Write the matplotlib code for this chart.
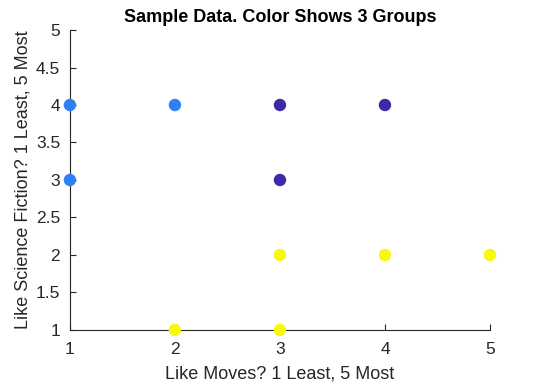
import matplotlib
matplotlib.use("Agg")
import matplotlib.pyplot as plt

plt.rcParams['font.family'] = ['Liberation Sans', 'DejaVu Sans']

x_vals = [1, 1, 2, 3, 4, 3, 2, 3, 3, 4, 5]
y_vals = [4, 3, 4, 4, 4, 3, 1, 1, 2, 2, 2]
groups = [1, 1, 1, 2, 2, 2, 3, 3, 3, 3, 3]
group_colors = {1: '#2f7ff6', 2: '#3d2aa6', 3: '#f7f80e'}
xticks = [1, 2, 3, 4, 5]
yticks = [1, 1.5, 2, 2.5, 3, 3.5, 4, 4.5, 5]
ytick_labels = ['1', '1.5', '2', '2.5', '3', '3.5', '4', '4.5', '5']

fig = plt.figure(figsize=(5.42, 3.85), dpi=100)
ax = fig.add_axes([0.129, 0.143, 0.775, 0.779])
ax.scatter(x_vals, y_vals, c=[group_colors[g] for g in groups], s=80,
           edgecolors='none', zorder=3, clip_on=False)
ax.set_xlim(1, 5)
ax.set_ylim(1, 5)
ax.set_xticks(xticks)
ax.set_yticks(yticks)
ax.set_yticklabels(ytick_labels)
for s in ['top', 'right']:
    ax.spines[s].set_visible(False)
for s in ['left', 'bottom']:
    ax.spines[s].set_color('#262626')
    ax.spines[s].set_linewidth(0.8)
ax.tick_params(direction='in', length=4, labelsize=12.5, colors='#262626')
ax.tick_params(axis='x', pad=9)
ax.tick_params(axis='y', pad=7)
ax.set_xlabel('Like Moves? 1 Least, 5 Most', fontsize=13, color='#262626', labelpad=6)
ax.set_ylabel('Like Science Fiction? 1 Least, 5 Most', fontsize=13, color='#262626', labelpad=3)
ax.set_title('Sample Data. Color Shows 3 Groups', fontsize=13, fontweight='bold', pad=6)
fig.savefig('out.png', dpi=100)
